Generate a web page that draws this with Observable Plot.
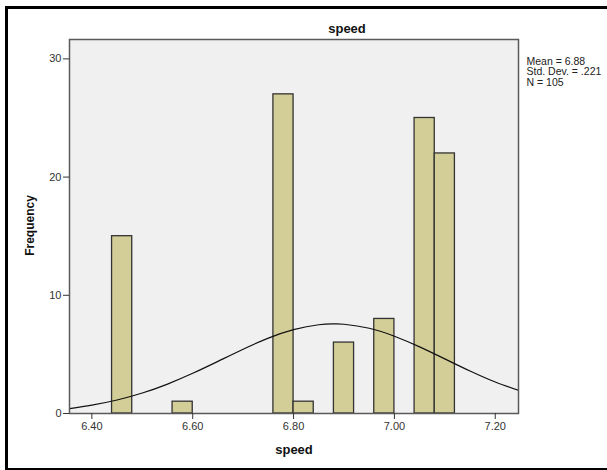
<!DOCTYPE html>
<html>
<head>
<meta charset="utf-8">
<script src="https://cdn.jsdelivr.net/npm/d3@7"></script>
<script src="https://cdn.jsdelivr.net/npm/@observablehq/plot@0.6"></script>
<style>
  html, body { margin: 0; padding: 0; background: #fff; }
  #wrap { position: relative; width: 607px; height: 470px; overflow: hidden; font-family: "Liberation Sans", Arial, sans-serif; }
  #border { position: absolute; left: 5px; top: 6px; width: 700px; height: 459px; border: 3px solid #000; box-sizing: content-box; }
  #chart { position: absolute; left: 0; top: 0; }
</style>
</head>
<body>
<div id="wrap"><div id="border"></div><div id="chart"></div></div>
<script>
// Histogram bins (speed) and frequencies
const binLow  = [6.44, 6.56, 6.76, 6.80, 6.88, 6.96, 7.04, 7.08];
const binHigh = [6.48, 6.60, 6.80, 6.84, 6.92, 7.00, 7.08, 7.12];
const counts  = [15, 1, 27, 1, 6, 8, 25, 22];

// Normal curve
const curveX = [6.356, 6.40, 6.45, 6.50, 6.55, 6.60, 6.65, 6.70, 6.75, 6.80, 6.85, 6.88, 6.90, 6.95, 7.00, 7.05, 7.10, 7.15, 7.20, 7.246];
const curveY = [0.42, 0.71, 1.14, 1.73, 2.49, 3.40, 4.41, 5.44, 6.38, 7.10, 7.51, 7.58, 7.55, 7.21, 6.54, 5.64, 4.62, 3.59, 2.66, 1.97];

const xTicks = [6.40, 6.60, 6.80, 7.00, 7.20];
const yTicks = [0, 10, 20, 30];

const title = "speed";
const xLabel = "speed";
const yLabel = "Frequency";
const statsLines = ["Mean = 6.88", "Std. Dev. = .221", "N = 105"];

const bars = binLow.map((lo, i) => ({lo, hi: binHigh[i], n: counts[i]}));
const curve = curveX.map((x, i) => ({x, y: curveY[i]}));

const font = "'Liberation Sans', Arial, sans-serif";

const chart = Plot.plot({
  width: 607,
  height: 470,
  marginLeft: 69,
  marginTop: 39,
  marginRight: 89,
  marginBottom: 57,
  style: {fontFamily: font, fontSize: "11px", color: "#222", background: "transparent", overflow: "visible"},
  x: {domain: [6.3556, 7.2461], ticks: xTicks, tickFormat: d3.format(".2f"), label: null},
  y: {domain: [0, 31.64], ticks: yTicks, label: null},
  marks: [
    Plot.frame({fill: "#F0F0F0", stroke: null}),
    Plot.rectY(bars, {x1: "lo", x2: "hi", y1: 0, y2: "n", fill: "#D3CE97", stroke: "#333", strokeWidth: 1.3}),
    Plot.line(curve, {x: "x", y: "y", curve: "natural", stroke: "#111", strokeWidth: 1.2, clip: true}),
    Plot.frame({stroke: "#5a5a5a", strokeWidth: 1.5}),
    Plot.axisX({ticks: xTicks, tickFormat: d3.format(".2f"), tickSize: 6, tickPadding: 3, stroke: "#333", fill: "#333", label: null}),
    Plot.axisY({ticks: yTicks, tickSize: 6, tickPadding: 2, stroke: "#333", fill: "#333", label: null}),
    Plot.text([title], {frameAnchor: "top", dx: 53, dy: -11, fontSize: 13, fontWeight: "bold", fill: "#111", lineAnchor: "middle"}),
    Plot.text([xLabel], {frameAnchor: "bottom", dy: 36, fontSize: 13, fontWeight: "bold", fill: "#111", lineAnchor: "middle"}),
    Plot.text([yLabel], {frameAnchor: "left", dx: -39, dy: -1, rotate: -90, textAnchor: "middle", fontSize: 12, fontWeight: "bold", fill: "#111", lineAnchor: "middle"}),
    Plot.text([statsLines.join("\n")], {frameAnchor: "top-right", dx: 8, dy: 18, textAnchor: "start", lineAnchor: "top", lineHeight: 1.0, fontSize: 10.5, fill: "#222"})
  ]
});
document.getElementById("chart").appendChild(chart);
</script>
</body>
</html>
